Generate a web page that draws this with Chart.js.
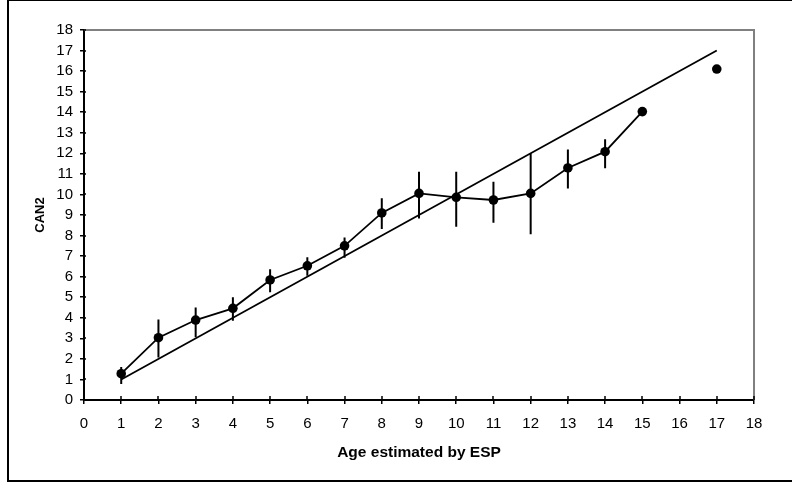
<!DOCTYPE html>
<html>
<head>
<meta charset="utf-8">
<script src="https://cdn.jsdelivr.net/npm/chart.js@4/dist/chart.umd.min.js"></script>
<style>
  html, body { margin: 0; padding: 0; background: #fff; }
  #wrap { width: 792px; height: 483px; }
</style>
</head>
<body>
<div id="wrap"><canvas id="c" width="792" height="483"></canvas></div>
<script>
// Ages estimated by ESP (x) and mean CAN2 readings with their ranges
const ages      = [1, 2, 3, 4, 5, 6, 7, 8, 9, 10, 11, 12, 13, 14, 15, 16, 17];
const can2Mean  = [1.28, 3.03, 3.89, 4.46, 5.84, 6.53, 7.5, 9.1, 10.05, 9.86, 9.73, 10.05, 11.29, 12.08, 14.03, null, 16.1];
const can2Low   = [0.78, 2.07, 3.05, 3.86, 5.24, 6.05, 6.92, 8.32, 8.83, 8.43, 8.62, 8.06, 10.29, 11.27, 13.95, null, 16.1];
const can2High  = [1.6, 3.92, 4.5, 5.0, 6.36, 6.94, 7.91, 9.82, 11.11, 11.11, 10.62, 12.0, 12.19, 12.68, 14.12, null, 16.1];
// One-to-one agreement line
const agreeX    = [1, 17];
const agreeY    = [1, 17];
const axisMin   = 0;
const axisMax   = 18;
const axisStep  = 1;

const FONT = "'Liberation Sans', Arial, sans-serif";

// White page with the outer box
const framePlugin = {
  id: 'frame',
  beforeDraw(chart) {
    const ctx = chart.ctx;
    ctx.save();
    ctx.fillStyle = '#fff';
    ctx.fillRect(0, 0, chart.width, chart.height);
    ctx.strokeStyle = '#000';
    ctx.lineWidth = 2;
    ctx.strokeRect(8, 0, chart.width + 20, 481);
    ctx.restore();
  },
  afterDraw(chart) {
    const ctx = chart.ctx;
    const a = chart.chartArea;
    ctx.save();
    // grey top and right edges of the plot area
    ctx.strokeStyle = '#808080';
    ctx.lineWidth = 2;
    ctx.beginPath();
    ctx.moveTo(a.left, a.top);
    ctx.lineTo(a.right, a.top);
    ctx.lineTo(a.right, a.bottom);
    ctx.stroke();
    // inner half of the crossing tick marks
    ctx.strokeStyle = '#000';
    ctx.lineWidth = 1.5;
    const xs = chart.scales.x, ys = chart.scales.y;
    ctx.beginPath();
    xs.ticks.forEach(t => {
      const px = Math.round(xs.getPixelForValue(t.value));
      ctx.moveTo(px, a.bottom);
      ctx.lineTo(px, a.bottom - 4);
    });
    ys.ticks.forEach(t => {
      const py = Math.round(ys.getPixelForValue(t.value));
      ctx.moveTo(a.left, py);
      ctx.lineTo(a.left + 2, py);
    });
    ctx.stroke();
    ctx.restore();
  }
};

// Vertical range bars for each mean
const rangePlugin = {
  id: 'ranges',
  afterDatasetsDraw(chart) {
    const ctx = chart.ctx;
    const xs = chart.scales.x, ys = chart.scales.y;
    ctx.save();
    ctx.strokeStyle = '#000';
    ctx.lineWidth = 2;
    ctx.beginPath();
    ages.forEach((age, i) => {
      if (can2Low[i] == null || can2High[i] == null) return;
      const px = xs.getPixelForValue(age);
      ctx.moveTo(px, ys.getPixelForValue(can2Low[i]));
      ctx.lineTo(px, ys.getPixelForValue(can2High[i]));
    });
    ctx.stroke();
    ctx.restore();
  }
};

const tickFont = { family: FONT, size: 15 };
const xTitleFont = { family: FONT, size: 15.5, weight: 'bold' };
const yTitleFont = { family: FONT, size: 13, weight: 'bold' };

new Chart(document.getElementById('c'), {
  type: 'line',
  data: {
    datasets: [
      {
        label: 'Mean CAN2',
        data: ages.map((a, i) => ({ x: a, y: can2Mean[i] })),
        borderColor: '#000',
        backgroundColor: '#000',
        borderWidth: 1.8,
        pointRadius: 4.8,
        pointHoverRadius: 4.8,
        pointBackgroundColor: '#000',
        pointBorderWidth: 0,
        spanGaps: false,
        tension: 0
      },
      {
        label: 'Agreement',
        data: agreeX.map((a, i) => ({ x: a, y: agreeY[i] })),
        borderColor: '#000',
        borderWidth: 1.8,
        pointRadius: 0,
        tension: 0
      }
    ]
  },
  options: {
    responsive: false,
    animation: false,
    events: [],
    layout: { padding: { left: 0, top: 30, right: 38, bottom: 0 } },
    plugins: {
      legend: { display: false },
      tooltip: { enabled: false }
    },
    scales: {
      x: {
        type: 'linear',
        min: axisMin, max: axisMax,
        afterFit(s) { s.height = 83; },
        ticks: { stepSize: axisStep, color: '#000', font: tickFont, padding: 11, maxRotation: 0, autoSkip: false },
        grid: { drawOnChartArea: false, drawTicks: true, tickLength: 4, color: '#000', lineWidth: 1.5 },
        border: { display: true, color: '#000', width: 2 },
        title: { display: true, text: 'Age estimated by ESP', color: '#000', font: xTitleFont, padding: { top: 0, bottom: 20.5 } }
      },
      y: {
        type: 'linear',
        min: axisMin, max: axisMax,
        afterFit(s) { s.width = 84; },
        ticks: { stepSize: axisStep, color: '#000', font: tickFont, padding: 7, autoSkip: false },
        grid: { drawOnChartArea: false, drawTicks: true, tickLength: 4, color: '#000', lineWidth: 1.5 },
        border: { display: true, color: '#000', width: 2 },
        title: { display: true, text: 'CAN2', color: '#000', font: yTitleFont, padding: { top: 33, bottom: 0 } }
      }
    }
  },
  plugins: [framePlugin, rangePlugin]
});
</script>
</body>
</html>
